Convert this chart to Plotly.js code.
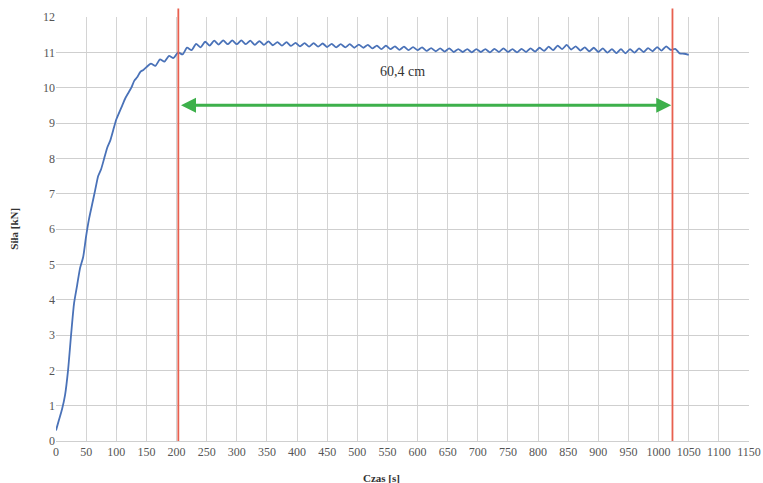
<!DOCTYPE html>
<html>
<head>
<meta charset="utf-8">
<script src="https://cdn.plot.ly/plotly-3.0.1.min.js"></script>
<style>html,body{margin:0;padding:0;background:#fff}</style>
</head>
<body>
<div id="chart" style="width:763px;height:483px"></div>
<script>
const timeS = [0,5,10,15,20,25,30,35,40,45,50,55,60,65,70,75,80,85,90,95,100,105,110,115,120,125,130,135,140,145,
150,157.5,165,172.5,180,187.5,195,202.5,210,217.5,225,232.5,240,247.5,255,262.5,270,277.5,285,292.5,
300,307.5,315,322.5,330,337.5,345,352.5,360,367.5,375,382.5,390,397.5,405,412.5,420,427.5,435,442.5,
450,457.5,465,472.5,480,487.5,495,502.5,510,517.5,525,532.5,540,547.5,555,562.5,570,577.5,585,592.5,
600,607.5,615,622.5,630,637.5,645,652.5,660,667.5,675,682.5,690,697.5,705,712.5,720,727.5,735,742.5,
750,757.5,765,772.5,780,787.5,795,802.5,810,817.5,825,832.5,840,847.5,855,862.5,870,877.5,885,892.5,
900,907.5,915,922.5,930,937.5,945,952.5,960,967.5,975,982.5,990,997.5,1005,1012.5,1020,1027.5,1035,1042.5,1050];
const forceKN = [0.3,0.6,0.9,1.3,2.0,3.0,3.9,4.4,4.9,5.2,5.8,6.3,6.7,7.1,7.5,7.7,8.0,8.3,8.5,8.8,9.1,9.3,9.5,9.7,9.85,10.0,10.2,10.3,10.45,10.5,
10.58,10.68,10.62,10.80,10.74,10.90,10.84,11.00,10.94,11.13,11.06,11.24,11.14,11.30,11.19,11.33,11.22,11.34,11.23,11.34,
11.23,11.34,11.23,11.33,11.21,11.32,11.21,11.31,11.20,11.29,11.19,11.29,11.18,11.27,11.17,11.26,11.16,11.26,11.16,11.25,
11.15,11.24,11.14,11.23,11.14,11.23,11.13,11.22,11.13,11.21,11.11,11.19,11.09,11.19,11.09,11.17,11.07,11.16,11.06,11.15,
11.06,11.14,11.04,11.12,11.03,11.11,11.02,11.11,11.01,11.09,11.01,11.09,11.00,11.09,11.01,11.09,11.00,11.10,11.01,11.11,
11.01,11.09,11.00,11.10,11.01,11.11,11.02,11.13,11.04,11.16,11.06,11.19,11.09,11.21,11.08,11.17,11.05,11.14,11.03,11.13,
11.01,11.11,10.99,11.09,10.98,11.09,10.97,11.09,10.99,11.11,11.01,11.12,11.03,11.15,11.05,11.17,11.07,11.10,10.97,10.96,10.93];
const xTicks = [0,50,100,150,200,250,300,350,400,450,500,550,600,650,700,750,800,850,900,950,1000,1050,1100,1150];
const startMark = 203;
const endMark = 1023;
const arrowLevel = 9.5;
const distanceLabel = "60,4 cm";
const xTitle = "Czas [s]";
const yTitle = "Siła [kN]";

const serif = "Liberation Serif";

Plotly.newPlot('chart', [{
  x: timeS, y: forceKN, type: 'scatter', mode: 'lines',
  line: {color: '#4a72b8', width: 1.8, shape: 'spline', smoothing: 0.6},
  hoverinfo: 'skip'
}], {
  width: 763, height: 483,
  margin: {l: 56, r: 14, t: 17, b: 42},
  paper_bgcolor: '#fff', plot_bgcolor: '#fff',
  showlegend: false,
  font: {family: serif, size: 12, color: '#555'},
  xaxis: {
    range: [0, 1150], tickvals: xTicks, ticktext: xTicks.map(String),
    showgrid: true, gridcolor: '#d4d4d4', gridwidth: 1,
    zeroline: false, showline: true, linecolor: '#cfcfcf',
    ticks: '', tickfont: {family: serif, size: 12, color: '#555'}
  },
  yaxis: {
    range: [0, 12], dtick: 1,
    showgrid: true, gridcolor: '#cfcfcf', gridwidth: 1,
    zeroline: false, showline: false,
    ticks: '', tickfont: {family: serif, size: 12, color: '#555'}
  },
  shapes: [
    {type: 'line', xref: 'x', yref: 'paper', x0: startMark, x1: startMark, y0: 0, y1: 1.02, line: {color: '#e8604f', width: 1.8}},
    {type: 'line', xref: 'x', yref: 'paper', x0: endMark, x1: endMark, y0: 0, y1: 1.02, line: {color: '#e8604f', width: 1.8}}
  ],
  annotations: [
    {x: endMark - 2, y: arrowLevel, ax: startMark + 2, ay: arrowLevel, xref: 'x', yref: 'y', axref: 'x', ayref: 'y',
     text: '', showarrow: true, arrowhead: 2, startarrowhead: 2, arrowside: 'end+start', arrowsize: 1, startarrowsize: 1,
     arrowwidth: 3, arrowcolor: '#3db04b'},
    {x: 575, y: 10.45, xref: 'x', yref: 'y', text: distanceLabel, showarrow: false,
     font: {family: serif, size: 14, color: '#333'}},
    {x: -0.061, y: 0.5, xref: 'paper', yref: 'paper', text: '<b>' + yTitle + '</b>', textangle: -90,
     showarrow: false, xanchor: 'center', yanchor: 'middle', font: {family: serif, size: 11, color: '#333'}},
    {x: 0.469, y: -0.087, xref: 'paper', yref: 'paper', text: '<b>' + xTitle + '</b>',
     showarrow: false, xanchor: 'center', yanchor: 'middle', font: {family: serif, size: 11, color: '#333'}}
  ]
}, {displayModeBar: false, staticPlot: true});
</script>
</body>
</html>
